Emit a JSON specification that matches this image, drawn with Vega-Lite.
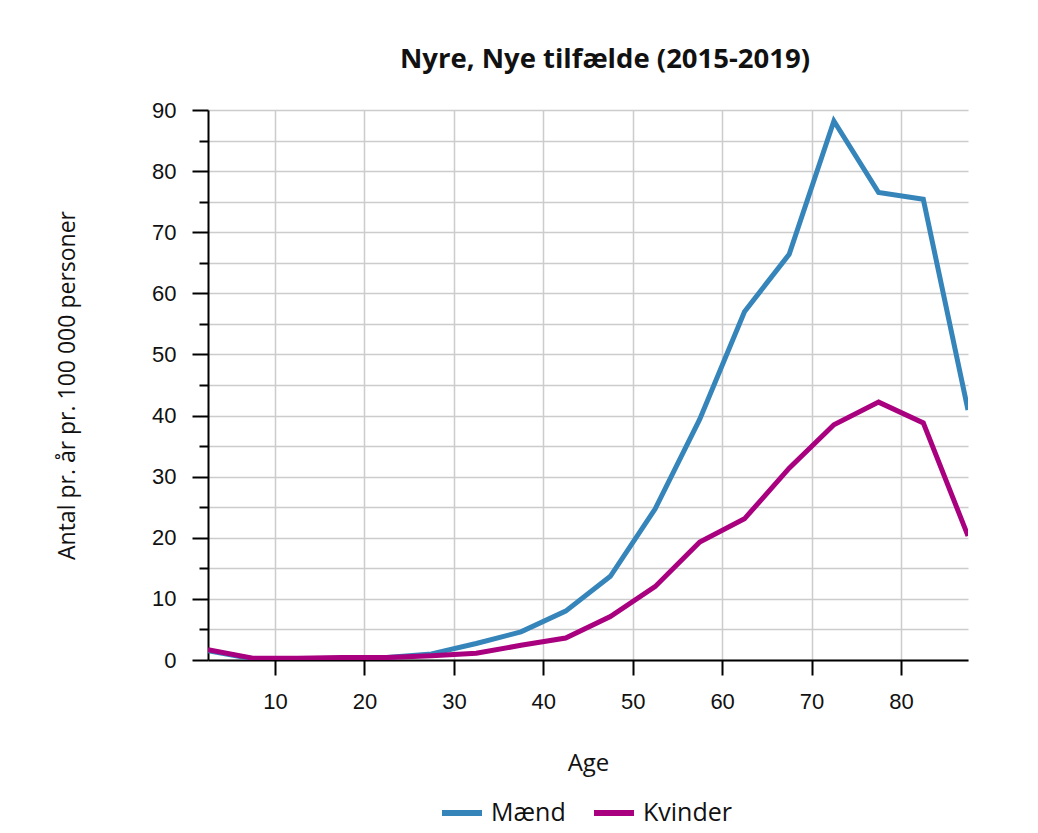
{
  "$schema": "https://vega.github.io/schema/vega-lite/v6.json",
  "width": 760,
  "height": 550,
  "autosize": "none",
  "padding": {"left": 208, "top": 110, "right": 70, "bottom": 173},
  "background": "white",
  "title": {
    "text": "Nyre, Nye tilfælde (2015-2019)",
    "font": "Open Sans",
    "fontSize": 27.5,
    "fontWeight": "bold",
    "color": "#111111",
    "anchor": "middle",
    "frame": "group",
    "dx": 17,
    "offset": 26
  },
  "config": {
    "view": {"stroke": null},
    "axis": {
      "gridColor": "#cccccc",
      "gridWidth": 1.5,
      "domainColor": "#000000",
      "domainWidth": 2,
      "tickColor": "#000000",
      "tickWidth": 2,
      "labelFont": "Liberation Sans",
      "labelFontSize": 22,
      "labelColor": "#111111",
      "titleColor": "#111111",
      "titleFontWeight": "normal"
    }
  },
  "data": {
    "values": [
      {"age": 2.5, "sex": "Mænd", "rate": 1.5},
      {"age": 7.5, "sex": "Mænd", "rate": 0.2},
      {"age": 12.5, "sex": "Mænd", "rate": 0.2},
      {"age": 17.5, "sex": "Mænd", "rate": 0.3},
      {"age": 22.5, "sex": "Mænd", "rate": 0.4},
      {"age": 27.5, "sex": "Mænd", "rate": 1.0},
      {"age": 32.5, "sex": "Mænd", "rate": 2.7},
      {"age": 37.5, "sex": "Mænd", "rate": 4.6},
      {"age": 42.5, "sex": "Mænd", "rate": 8.0},
      {"age": 47.5, "sex": "Mænd", "rate": 13.7},
      {"age": 52.5, "sex": "Mænd", "rate": 24.7},
      {"age": 57.5, "sex": "Mænd", "rate": 39.4},
      {"age": 62.5, "sex": "Mænd", "rate": 57.0},
      {"age": 67.5, "sex": "Mænd", "rate": 66.4},
      {"age": 72.5, "sex": "Mænd", "rate": 88.2},
      {"age": 77.5, "sex": "Mænd", "rate": 76.5},
      {"age": 82.5, "sex": "Mænd", "rate": 75.4},
      {"age": 87.5, "sex": "Mænd", "rate": 40.9},
      {"age": 2.5, "sex": "Kvinder", "rate": 1.7},
      {"age": 7.5, "sex": "Kvinder", "rate": 0.3},
      {"age": 12.5, "sex": "Kvinder", "rate": 0.3},
      {"age": 17.5, "sex": "Kvinder", "rate": 0.4},
      {"age": 22.5, "sex": "Kvinder", "rate": 0.4},
      {"age": 27.5, "sex": "Kvinder", "rate": 0.7},
      {"age": 32.5, "sex": "Kvinder", "rate": 1.1},
      {"age": 37.5, "sex": "Kvinder", "rate": 2.4},
      {"age": 42.5, "sex": "Kvinder", "rate": 3.6},
      {"age": 47.5, "sex": "Kvinder", "rate": 7.1},
      {"age": 52.5, "sex": "Kvinder", "rate": 12.0},
      {"age": 57.5, "sex": "Kvinder", "rate": 19.3},
      {"age": 62.5, "sex": "Kvinder", "rate": 23.1},
      {"age": 67.5, "sex": "Kvinder", "rate": 31.4},
      {"age": 72.5, "sex": "Kvinder", "rate": 38.5},
      {"age": 77.5, "sex": "Kvinder", "rate": 42.2},
      {"age": 82.5, "sex": "Kvinder", "rate": 38.8},
      {"age": 87.5, "sex": "Kvinder", "rate": 20.3}
    ]
  },
  "mark": {"type": "line", "strokeWidth": 5, "clip": true, "strokeJoin": "miter"},
  "encoding": {
    "x": {
      "field": "age",
      "type": "quantitative",
      "title": "Age",
      "scale": {"domain": [2.5, 87.5], "nice": false, "zero": false},
      "axis": {
        "values": [10, 20, 30, 40, 50, 60, 70, 80],
        "tickSize": 15,
        "labelPadding": 16,
        "titleFont": "Open Sans",
        "titleFontSize": 24,
        "titlePadding": 39
      }
    },
    "y": {
      "field": "rate",
      "type": "quantitative",
      "title": "Antal pr. år pr. 100 000 personer",
      "scale": {"domain": [0, 90], "nice": false},
      "axis": {
        "values": [0, 5, 10, 15, 20, 25, 30, 35, 40, 45, 50, 55, 60, 65, 70, 75, 80, 85, 90],
        "labelExpr": "datum.value % 10 === 0 ? datum.label : ''",
        "tickSize": {"condition": {"test": "datum.value % 10 === 0", "value": 16}, "value": 9},
        "labelPadding": 16,
        "titleFont": "Open Sans",
        "titleFontSize": 23,
        "titlePadding": 72
      }
    },
    "color": {
      "field": "sex",
      "type": "nominal",
      "title": null,
      "scale": {"domain": ["Mænd", "Kvinder"], "range": ["#3585bb", "#a8007e"]},
      "legend": {
        "orient": "none",
        "direction": "horizontal",
        "legendX": 231,
        "legendY": 680,
        "symbolType": "stroke",
        "symbolSize": 1600,
        "symbolStrokeWidth": 6,
        "labelFont": "Open Sans",
        "labelFontSize": 25,
        "labelColor": "#111111",
        "columnPadding": 16,
        "labelOffset": 6
      }
    }
  }
}
